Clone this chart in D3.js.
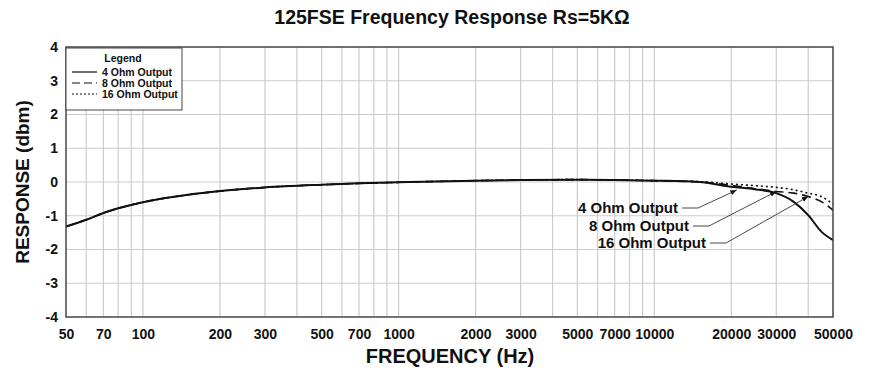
<!DOCTYPE html>
<html>
<head>
<meta charset="utf-8">
<script src="https://cdn.jsdelivr.net/npm/d3@7"></script>
<style>
  body { margin: 0; background: #fff; }
  text { font-family: "Liberation Sans", Arial, sans-serif; font-weight: bold; fill: #111; }
</style>
</head>
<body>
<script>
// data
var freqs   = [50, 60, 70, 80, 100, 150, 200, 300, 500, 700, 1000, 2000, 3000, 5000, 7000, 10000, 15000, 20000, 25000, 30000, 35000, 40000, 45000, 50000];
var ohm4    = [-1.32, -1.12, -0.92, -0.78, -0.6, -0.38, -0.27, -0.16, -0.08, -0.04, -0.01, 0.04, 0.06, 0.07, 0.06, 0.04, 0.0, -0.14, -0.22, -0.33, -0.58, -0.98, -1.47, -1.72];
var ohm8    = [-1.32, -1.12, -0.92, -0.78, -0.6, -0.38, -0.27, -0.16, -0.08, -0.04, -0.01, 0.04, 0.06, 0.07, 0.06, 0.04, 0.0, -0.1, -0.2, -0.28, -0.33, -0.43, -0.58, -0.83];
var ohm16   = [-1.32, -1.12, -0.92, -0.78, -0.6, -0.38, -0.27, -0.16, -0.08, -0.04, -0.01, 0.04, 0.06, 0.07, 0.06, 0.04, 0.01, -0.06, -0.11, -0.16, -0.23, -0.33, -0.43, -0.66];
var seriesNames = ["4 Ohm Output", "8 Ohm Output", "16 Ohm Output"];
var dashes = [null, "9,5", "2,3"];
var xTicks = [50, 70, 100, 200, 300, 500, 700, 1000, 2000, 3000, 5000, 7000, 10000, 20000, 30000, 50000];
var yTicks = [-4, -3, -2, -1, 0, 1, 2, 3, 4];
// callout arrows: target frequency / response
var arrowFreq = [21000, 30000, 40000];
var arrowResp = [-0.24, -0.28, -0.43];

var width = 874, height = 376;
var margin = {left: 66, right: 41, top: 47, bottom: 59};

var svg = d3.select("body").append("svg")
  .attr("width", width)
  .attr("height", height);

var xScale = d3.scaleLog()
  .domain([50, 50000])
  .range([margin.left, width - margin.right]);

var yScale = d3.scaleLinear()
  .domain([-4, 4])
  .range([height - margin.bottom, margin.top]);

// grid
var gridVals = [];
[10, 100, 1000, 10000].forEach(function(dec) {
  for (var k = 1; k <= 9; k++) {
    var v = dec * k;
    if (v > 50 && v < 50000) gridVals.push(v);
  }
});

svg.append("g").selectAll("line")
  .data(gridVals)
  .enter().append("line")
  .attr("x1", function(d) { return xScale(d); })
  .attr("x2", function(d) { return xScale(d); })
  .attr("y1", yScale(4))
  .attr("y2", yScale(-4))
  .attr("stroke", "#cccccc")
  .attr("stroke-width", 1.2);

svg.append("g").selectAll("line")
  .data(yTicks.slice(1, -1))
  .enter().append("line")
  .attr("x1", xScale(50))
  .attr("x2", xScale(50000))
  .attr("y1", function(d) { return yScale(d); })
  .attr("y2", function(d) { return yScale(d); })
  .attr("stroke", "#cccccc")
  .attr("stroke-width", 1.2);

// axes
var xAxis = d3.axisBottom(xScale)
  .tickValues(xTicks)
  .tickFormat(function(d) { return String(d); })
  .tickSize(0)
  .tickPadding(12);
var gx = svg.append("g")
  .attr("transform", "translate(0," + yScale(-4) + ")")
  .call(xAxis);
gx.select(".domain").remove();
gx.selectAll("text").style("font-size", "14px").attr("fill", "#111");

var yAxis = d3.axisLeft(yScale)
  .tickValues(yTicks)
  .tickFormat(function(d) { return String(d); })
  .tickSize(0)
  .tickPadding(8);
var gy = svg.append("g")
  .attr("transform", "translate(" + xScale(50) + ",0)")
  .call(yAxis);
gy.select(".domain").remove();
gy.selectAll("text").style("font-size", "14px").attr("fill", "#111");

// curves
var allSeries = [ohm4, ohm8, ohm16];
var line = d3.line()
  .x(function(d, i) { return xScale(freqs[i]); })
  .y(function(d) { return yScale(d); })
  .curve(d3.curveMonotoneX);

svg.append("g").selectAll("path")
  .data(allSeries)
  .enter().append("path")
  .attr("d", line)
  .attr("fill", "none")
  .attr("stroke", "#111")
  .attr("stroke-width", function(d, i) { return i == 0 ? 2 : 1.6; })
  .attr("stroke-dasharray", function(d, i) { return dashes[i]; });

// frame
svg.append("rect")
  .attr("x", xScale(50))
  .attr("y", yScale(4))
  .attr("width", xScale(50000) - xScale(50))
  .attr("height", yScale(-4) - yScale(4))
  .attr("fill", "none")
  .attr("stroke", "#444")
  .attr("stroke-width", 1.5);

// legend
var lg = svg.append("g").attr("transform", "translate(" + xScale(50) + "," + yScale(4) + ")");
lg.append("rect")
  .attr("x", 0).attr("y", 1)
  .attr("width", 116).attr("height", 62)
  .attr("fill", "#fff")
  .attr("stroke", "#444")
  .attr("stroke-width", 1);
lg.append("text")
  .attr("x", 57).attr("y", 15)
  .attr("text-anchor", "middle")
  .style("font-size", "10.5px")
  .text("Legend");
seriesNames.forEach(function(name, i) {
  var y = 25 + i * 11;
  lg.append("line")
    .attr("x1", 6).attr("x2", 31)
    .attr("y1", y).attr("y2", y)
    .attr("stroke", "#111")
    .attr("stroke-width", 1.2)
    .attr("stroke-dasharray", i == 0 ? null : (i == 1 ? "8,4" : "2,2"));
  lg.append("text")
    .attr("x", 36).attr("y", y + 4)
    .style("font-size", "10.5px")
    .text(name);
});

// callouts
svg.append("defs").append("marker")
  .attr("id", "arr")
  .attr("viewBox", "0 0 10 10")
  .attr("refX", 10).attr("refY", 5)
  .attr("markerWidth", 7).attr("markerHeight", 7)
  .attr("orient", "auto")
  .append("path")
  .attr("d", "M0,1 L10,5 L0,9 Z")
  .attr("fill", "#111");

var labelRight = [678, 689, 706];
var labelY = [208, 226, 243];
seriesNames.forEach(function(name, i) {
  svg.append("text")
    .attr("x", labelRight[i]).attr("y", labelY[i] + 5)
    .attr("text-anchor", "end")
    .style("font-size", "15px")
    .text(name);
  var x0 = labelRight[i] + 4;
  var x1 = x0 + 16;
  svg.append("path")
    .attr("d", "M" + x0 + "," + labelY[i] + " L" + x1 + "," + labelY[i] +
      " L" + xScale(arrowFreq[i]) + "," + yScale(arrowResp[i]))
    .attr("fill", "none")
    .attr("stroke", "#333")
    .attr("stroke-width", 0.9)
    .attr("marker-end", "url(#arr)");
});

// titles
svg.append("text")
  .attr("x", 452).attr("y", 24)
  .attr("text-anchor", "middle")
  .style("font-size", "19.5px")
  .text("125FSE Frequency Response Rs=5K\u03A9");

svg.append("text")
  .attr("x", 450).attr("y", 363)
  .attr("text-anchor", "middle")
  .style("font-size", "20px")
  .text("FREQUENCY (Hz)");

svg.append("text")
  .attr("transform", "translate(29," + yScale(0) + ") rotate(-90)")
  .attr("text-anchor", "middle")
  .style("font-size", "19px")
  .text("RESPONSE (dbm)");
</script>
</body>
</html>
